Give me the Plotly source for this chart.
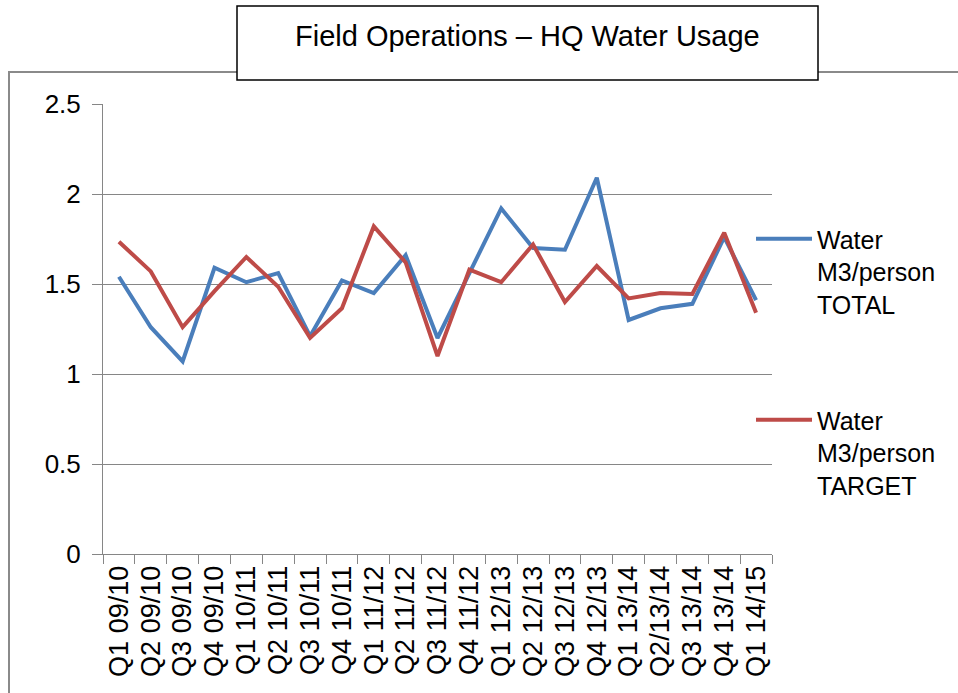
import plotly.graph_objects as go

categories = ["Q1 09/10", "Q2 09/10", "Q3 09/10", "Q4 09/10", "Q1 10/11", "Q2 10/11",
              "Q3 10/11", "Q4 10/11", "Q1 11/12", "Q2 11/12", "Q3 11/12", "Q4 11/12",
              "Q1 12/13", "Q2 12/13", "Q3 12/13", "Q4 12/13", "Q1 13/14", "Q2/13/14",
              "Q3 13/14", "Q4 13/14", "Q1 14/15"]
total = [1.54, 1.26, 1.07, 1.59, 1.51, 1.56, 1.21, 1.52, 1.45, 1.66, 1.20, 1.56,
         1.92, 1.70, 1.69, 2.09, 1.30, 1.365, 1.39, 1.76, 1.41]
target = [1.735, 1.57, 1.26, 1.46, 1.65, 1.485, 1.20, 1.365, 1.82, 1.62, 1.10, 1.58,
          1.51, 1.72, 1.40, 1.60, 1.42, 1.45, 1.445, 1.785, 1.34]
y_ticks = [0, 0.5, 1, 1.5, 2, 2.5]
title_text = "Field Operations \u2013 HQ Water Usage"
name_total = "Water<br>M3/person<br>TOTAL"
name_target = "Water<br>M3/person<br>TARGET"

W, H = 958, 693
L, R, T, B = 103, 772, 104, 554  # plot area pixel box


def px(x):
    return (x - L) / (R - L)


def py(y):
    return (B - y) / (B - T)


FONT = "Liberation Sans, Arial, sans-serif"

fig = go.Figure()
fig.add_trace(go.Scatter(x=categories, y=total, mode="lines", name=name_total,
                         line=dict(color="#4A7EBB", width=4), legend="legend"))
fig.add_trace(go.Scatter(x=categories, y=target, mode="lines", name=name_target,
                         line=dict(color="#BE4B48", width=4), legend="legend2"))

legend_common = dict(xanchor="left", yanchor="top", valign="top",
                     font=dict(family=FONT, size=25, color="black"),
                     bgcolor="rgba(0,0,0,0)", itemwidth=56)

fig.update_layout(
    width=W, height=H,
    margin=dict(l=L, r=W - R, t=T, b=H - B),
    paper_bgcolor="white", plot_bgcolor="white",
    font=dict(family=FONT, color="black"),
    showlegend=True,
    legend=dict(x=px(751), y=py(216), **legend_common),
    legend2=dict(x=px(751), y=py(397), **legend_common),
    xaxis=dict(type="category", tickangle=-90, showgrid=False,
               tickmode="array", tickvals=categories, ticktext=categories,
               showline=True, linecolor="#868686", linewidth=1,
               ticks="outside", ticklen=9, tickcolor="#868686", tickson="boundaries",
               tickfont=dict(family=FONT, size=27, color="black"),
               range=[-0.5, len(categories) - 0.5]),
    yaxis=dict(range=[0, 2.5], tickvals=y_ticks, showgrid=True, gridcolor="#868686",
               gridwidth=1, showline=True, linecolor="#868686", linewidth=1,
               ticks="outside", ticklen=10, tickcolor="#868686", zeroline=False,
               ticklabelstandoff=6,
               tickfont=dict(family=FONT, size=26, color="black")),
    shapes=[
        dict(type="rect", xref="paper", yref="paper", x0=px(9), x1=px(975),
             y0=py(710), y1=py(72), line=dict(color="#8A8A8A", width=2),
             fillcolor="rgba(0,0,0,0)", layer="below"),
        dict(type="rect", xref="paper", yref="paper", x0=px(237), x1=px(818),
             y0=py(80), y1=py(6), line=dict(color="black", width=1.5),
             fillcolor="white", layer="above"),
    ],
    annotations=[
        dict(text=title_text, xref="paper", yref="paper", x=px(527), y=py(36),
             xanchor="center", yanchor="middle", showarrow=False,
             font=dict(family=FONT, size=29, color="black")),
    ],
)

fig.write_html("out.html", config={"displayModeBar": False},
               post_script="document.body.style.margin='0';document.body.style.padding='0';")
